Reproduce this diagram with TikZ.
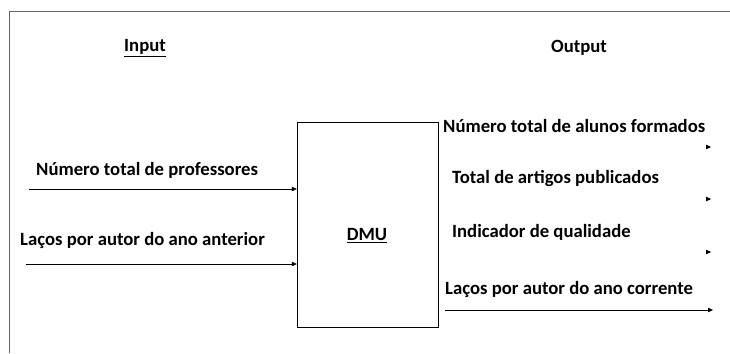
\documentclass[tikz,border=0pt]{standalone}
\usepackage{fontspec}
\setmainfont{Carlito}
\usetikzlibrary{arrows.meta}

\begin{document}
\begin{tikzpicture}[x=1pt,y=-1pt,>={Triangle[length=5pt,width=4.5pt]},
    lbl/.style={font=\bfseries\fontsize{18.7}{22}\selectfont, inner sep=0pt}]
    \useasboundingbox (0,0) rectangle (730,353);
    % frame
    \draw[gray!80!black] (9,353) -- (9,11) -- (730,11);
    % headings
    \node[lbl] (inhead) at (145,48) {\underline{Input}};
    \node[lbl] (outhead) at (579,48) {Output};
    % decision making unit
    \node[draw, minimum width=141pt, minimum height=205pt, inner sep=0pt] (dmu) at (367.5,224.5) {};
    \node[lbl] (dmulbl) at (367,236) {\underline{DMU}};
    % inputs
    \node[lbl, anchor=west] (in1) at (36,170) {Número total de professores};
    \node[lbl, anchor=west] (in2) at (20,241) {Laços por autor do ano anterior};
    \coordinate (a1) at (29,189);
    \coordinate (a2) at (26,264);
    \draw[->] (a1) -- (a1 -| dmu.west);
    \draw[->] (a2) -- (a2 -| dmu.west);
    % outputs
    \node[lbl, anchor=west] (out1) at (443,126) {Número total de alunos formados};
    \node[lbl, anchor=west] (out2) at (452,179) {Total de artigos publicados};
    \node[lbl, anchor=west] (out3) at (452,232) {Indicador de qualidade};
    \node[lbl, anchor=west] (out4) at (445,290) {Laços por autor do ano corrente};
    \coordinate (b1) at (710,147);  \coordinate (c1) at (711,147);
    \coordinate (b2) at (710,199);  \coordinate (c2) at (711,199);
    \coordinate (b3) at (710,252);  \coordinate (c3) at (711,252);
    \coordinate (b4) at (445,310);  \coordinate (c4) at (713,310);
    \draw[->] (b1) -- (c1);
    \draw[->] (b2) -- (c2);
    \draw[->] (b3) -- (c3);
    \draw[->] (b4) -- (c4);
\end{tikzpicture}
\end{document}
